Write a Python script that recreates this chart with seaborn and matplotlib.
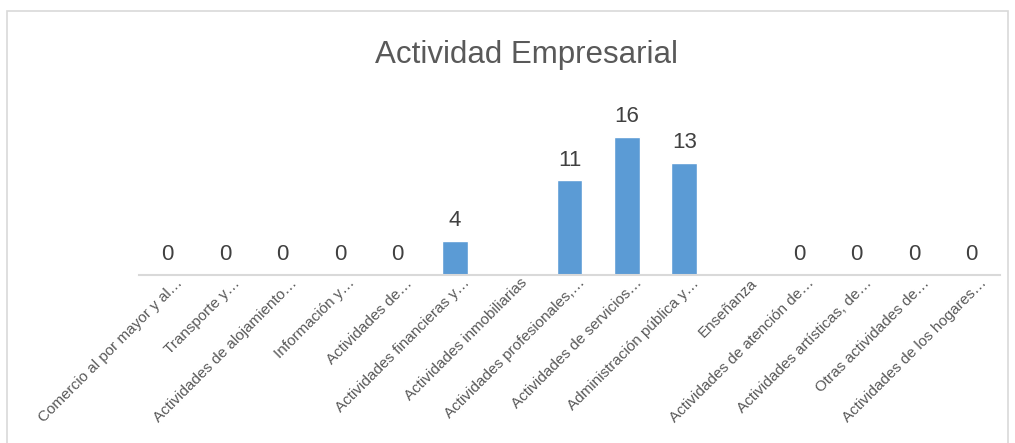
import numpy as np
import pandas as pd
import matplotlib
matplotlib.use("Agg")
import matplotlib.pyplot as plt
import matplotlib.transforms as mtransforms
import seaborn as sns
from matplotlib.patches import Rectangle

categories = [
    "Comercio al por mayor y al…",
    "Transporte y…",
    "Actividades de alojamiento…",
    "Información y…",
    "Actividades de…",
    "Actividades financieras y…",
    "Actividades inmobiliarias",
    "Actividades profesionales,…",
    "Actividades de servicios…",
    "Administración pública y…",
    "Enseñanza",
    "Actividades de atención de…",
    "Actividades artísticas, de…",
    "Otras actividades de…",
    "Actividades de los hogares…",
]
values = [0, 0, 0, 0, 0, 4, np.nan, 11, 16, 13, np.nan, 0, 0, 0, 0]
title = "Actividad Empresarial"

sns.set_style("white")
plt.rcParams["font.family"] = ["Liberation Sans", "DejaVu Sans"]

df = pd.DataFrame({"cat": categories, "val": values})

fig = plt.figure(figsize=(10.15, 4.43), dpi=100)
ax = fig.add_axes([139 / 1015, 1 - 275 / 443, 861 / 1015, 155 / 443])

sns.barplot(data=df, x="cat", y="val", color="#5b9bd5", width=0.45,
            saturation=1, ax=ax, errorbar=None)
ax.set_ylim(0, 18)
ax.set_xlim(-0.5, len(categories) - 0.5)

for i, v in enumerate(values):
    if not np.isnan(v):
        ax.annotate(f"{int(v)}", (i, v), xytext=(0, 7), textcoords="offset points",
                    ha="center", va="bottom", fontsize=16, color="#404040")

ax.set_xlabel("")
ax.set_ylabel("")
ax.set_yticks([])
ax.tick_params(axis="x", length=0, pad=2)
ax.set_xticks(range(len(categories)))
ax.set_xticklabels(categories, rotation=45, ha="right", rotation_mode="anchor",
                   fontsize=11, color="#595959")
offset = mtransforms.ScaledTranslation(8 / 100, 2 / 100, fig.dpi_scale_trans)
for lbl in ax.get_xticklabels():
    lbl.set_transform(lbl.get_transform() + offset)
for s in ["top", "right", "left"]:
    ax.spines[s].set_visible(False)
ax.spines["bottom"].set_color("#d9d9d9")
ax.spines["bottom"].set_linewidth(1.5)

fig.text(0.519, 1 - 55 / 443, title, ha="center", va="center", fontsize=22.5, color="#595959")

fig.patches.append(Rectangle((7 / 1015, -0.05), 1001 / 1015, 1 - 11 / 443 + 0.05,
                             transform=fig.transFigure, fill=False,
                             edgecolor="#d9d9d9", linewidth=1.2))

fig.savefig("out.png", dpi=100)
